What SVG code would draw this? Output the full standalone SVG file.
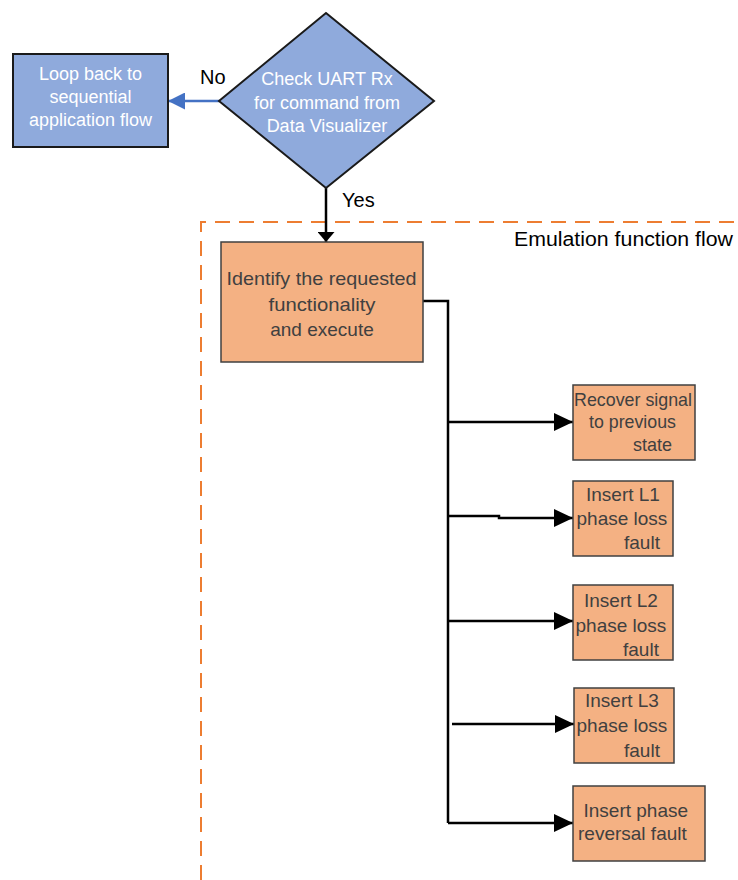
<svg xmlns="http://www.w3.org/2000/svg" width="738" height="880" viewBox="0 0 738 880">
  <style>
    .blue { fill: #8FAADC; stroke: #1a1a1a; stroke-width: 2; }
    .orange { fill: #F4B183; stroke: #404040; stroke-width: 1.5; }
    .wt { font-family: "Liberation Sans", Arial, sans-serif; fill: #ffffff; font-size: 18px; text-anchor: middle; }
    .ot { font-family: "Liberation Sans", Arial, sans-serif; fill: #404040; font-size: 19px; }
    .lbl { font-family: "Liberation Sans", Arial, sans-serif; fill: #000000; font-size: 20px; }
    .conn { fill: none; stroke: #000000; stroke-width: 2.5; }
  </style>
  <defs>
    <marker id="arrR" markerUnits="userSpaceOnUse" markerWidth="19" markerHeight="18" refX="19" refY="9" orient="auto">
      <path d="M0,0 L19,9 L0,18 z" fill="#000000"/>
    </marker>
    <marker id="arrY" markerUnits="userSpaceOnUse" markerWidth="10" markerHeight="17" refX="10" refY="8.5" orient="auto">
      <path d="M0,0 L10,8.5 L0,17 z" fill="#000000"/>
    </marker>
    <marker id="arrB" markerUnits="userSpaceOnUse" markerWidth="17" markerHeight="17" refX="17" refY="8.5" orient="auto">
      <path d="M0,0 L17,8.5 L0,17 z" fill="#4472C4"/>
    </marker>
  </defs>

  <rect width="738" height="880" fill="#ffffff"/>

  <!-- Emulation function flow boundary -->
  <g id="emulation-region">
    <path d="M201,880 L201,222 L738,222" fill="none" stroke="#ED7D31" stroke-width="2" stroke-dasharray="15,9"/>
    <text class="lbl" x="514" y="246" font-size="21" textLength="219" lengthAdjust="spacingAndGlyphs">Emulation function flow</text>
  </g>

  <!-- Connectors -->
  <g id="connectors">
    <line x1="219" y1="101" x2="168" y2="101" stroke="#4472C4" stroke-width="2.5" marker-end="url(#arrB)"/>
    <line class="conn" x1="326" y1="188" x2="326" y2="242" marker-end="url(#arrY)"/>
    <polyline class="conn" points="423,301 448,301 448,823"/>
    <line class="conn" x1="448" y1="422" x2="573" y2="422" marker-end="url(#arrR)"/>
    <polyline class="conn" points="448,516 499,516 499,518 573,518" marker-end="url(#arrR)"/>
    <line class="conn" x1="448" y1="621" x2="573" y2="621" marker-end="url(#arrR)"/>
    <line class="conn" x1="452" y1="724" x2="574" y2="724" marker-end="url(#arrR)"/>
    <line class="conn" x1="448" y1="823" x2="573" y2="823" marker-end="url(#arrR)"/>
    <text class="lbl" x="200" y="84">No</text>
    <text class="lbl" x="342" y="207">Yes</text>
  </g>

  <g id="loop-back">
    <rect class="blue" x="13" y="54" width="155" height="93"/>
    <text class="wt" x="90.5" y="80">Loop back to</text>
    <text class="wt" x="90.5" y="103">sequential</text>
    <text class="wt" x="90.5" y="126">application flow</text>
  </g>

  <g id="check-uart">
    <polygon class="blue" points="326,13 434,101 326,188 219,101"/>
    <text class="wt" x="327" y="85">Check UART Rx</text>
    <text class="wt" x="327" y="109">for command from</text>
    <text class="wt" x="327" y="132">Data Visualizer</text>
  </g>

  <g id="identify">
    <rect class="orange" x="221" y="242" width="202" height="120"/>
    <text class="ot" x="321.5" y="285" font-size="20" text-anchor="middle" textLength="190" lengthAdjust="spacingAndGlyphs">Identify the requested</text>
    <text class="ot" x="322" y="311" font-size="20" text-anchor="middle" textLength="107" lengthAdjust="spacingAndGlyphs">functionality</text>
    <text class="ot" x="322" y="336" font-size="20" text-anchor="middle">and execute</text>
  </g>

  <g id="recover">
    <rect class="orange" x="573" y="385" width="122" height="75"/>
    <text class="ot" x="574" y="406" font-size="18" textLength="118" lengthAdjust="spacingAndGlyphs">Recover signal</text>
    <text class="ot" x="589" y="428" font-size="18" textLength="87" lengthAdjust="spacingAndGlyphs">to previous</text>
    <text class="ot" x="633" y="451" font-size="18" textLength="39" lengthAdjust="spacingAndGlyphs">state</text>
  </g>

  <g id="insert-l1">
    <rect class="orange" x="573" y="481" width="100" height="75"/>
    <text class="ot" x="586" y="501">Insert L1</text>
    <text class="ot" x="576.5" y="525">phase loss</text>
    <text class="ot" x="624" y="549">fault</text>
  </g>

  <g id="insert-l2">
    <rect class="orange" x="573" y="585" width="100" height="75"/>
    <text class="ot" x="584" y="607">Insert L2</text>
    <text class="ot" x="575.5" y="631.5">phase loss</text>
    <text class="ot" x="623" y="656">fault</text>
  </g>

  <g id="insert-l3">
    <rect class="orange" x="574" y="688" width="100" height="75"/>
    <text class="ot" x="585" y="707">Insert L3</text>
    <text class="ot" x="576.5" y="731.5">phase loss</text>
    <text class="ot" x="624" y="757">fault</text>
  </g>

  <g id="insert-reversal">
    <rect class="orange" x="573" y="786" width="132" height="75"/>
    <text class="ot" x="583.5" y="817">Insert phase</text>
    <text class="ot" x="578" y="840">reversal fault</text>
  </g>
</svg>
